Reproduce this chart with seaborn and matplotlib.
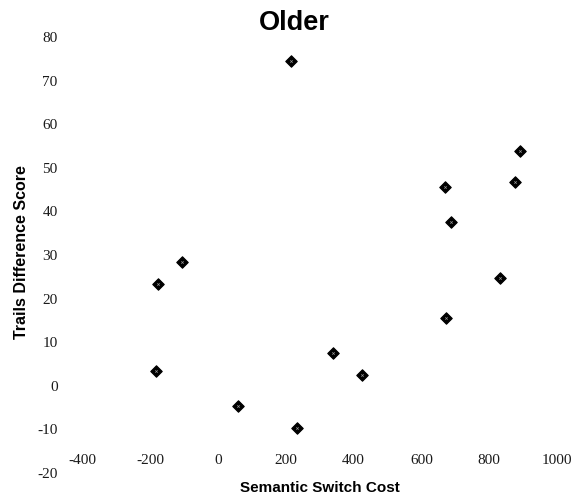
import numpy as np
import pandas as pd
import seaborn as sns
import matplotlib
matplotlib.use("Agg")
import matplotlib.pyplot as plt

switch_cost = [215, 891, 876, 670, 687, -106, -177, -183, 59, 233, 339, 425, 673, 832]
trails_diff = [74.5, 53.9, 46.8, 45.6, 37.6, 28.4, 23.4, 3.4, -4.6, -9.6, 7.6, 2.5, 15.6, 24.8]
x_ticks = [-400, -200, 0, 200, 400, 600, 800, 1000]
y_ticks = [-20, -10, 0, 10, 20, 30, 40, 50, 60, 70, 80]

sns.set_style("white")
plt.rcParams["font.family"] = ["Liberation Sans", "DejaVu Sans"]
plt.rcParams["axes.unicode_minus"] = False
plt.rcParams["text.color"] = "black"

df = pd.DataFrame({"cost": switch_cost, "trails": trails_diff})

fig = plt.figure(figsize=(5.86, 5.03), dpi=100)
ax = fig.add_axes([0.140, 0.060, 0.8106, 0.866])

# black diamonds, with a faint speck inside like the scan
sns.scatterplot(data=df, x="cost", y="trails", marker="D", s=34,
                color="black", edgecolor="black", linewidth=0.8, ax=ax)
sns.scatterplot(data=df, x="cost", y="trails", marker="x", s=3,
                color="#999999", linewidth=0.5, ax=ax)

ax.set_xlim(-400, 1000)
ax.set_ylim(-20, 80)
ax.set_xticks(x_ticks)
ax.set_yticks(y_ticks)
for s in ax.spines.values():
    s.set_visible(False)
ax.spines["bottom"].set_position(("data", -10))

ax.tick_params(axis="x", length=1.5, width=0.6, color="#aaaaaa", pad=16,
               labelsize=11, labelcolor="#1a1a1a")
ax.tick_params(axis="y", length=1.5, width=0.6, color="#aaaaaa", pad=16,
               labelsize=11, labelcolor="#1a1a1a")
for lab in ax.get_xticklabels() + ax.get_yticklabels():
    lab.set_family("Liberation Serif")

ax.set_xlabel("")
ax.set_ylabel("")
fig.text(320 / 586, 1 - 488 / 503, "Semantic Switch Cost", ha="center", va="center",
         fontsize=11, fontweight="bold")
fig.text(22 / 586, 1 - 252 / 503, "Trails Difference Score", ha="center", va="center",
         rotation=90, fontsize=11.5, fontweight="bold")
fig.text(294 / 586, 1 - 23 / 503, "Older", ha="center", va="center",
         fontsize=19.5, fontweight="bold")

fig.savefig("out.png", dpi=100)
